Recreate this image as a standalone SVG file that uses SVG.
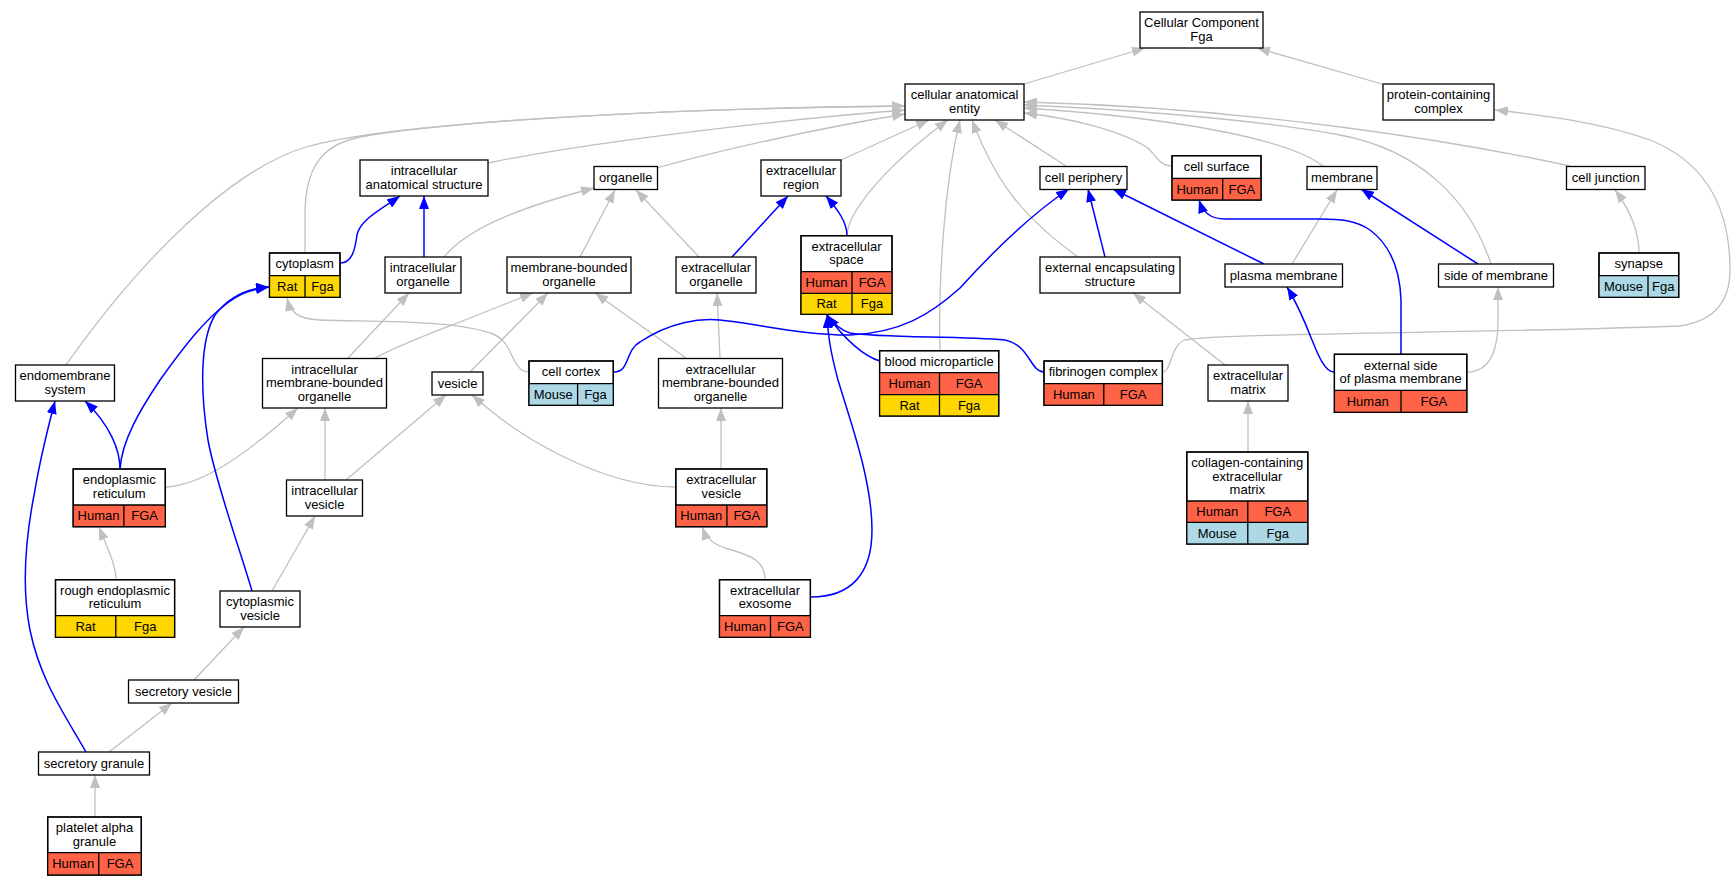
<svg xmlns="http://www.w3.org/2000/svg" width="1735" height="885" viewBox="0 0 1735 885">
<style>
text{font-family:"Liberation Sans",Arial,Helvetica,sans-serif;font-size:13px;text-anchor:middle;fill:#000}
.bx{fill:#fff;stroke:#000;stroke-width:1.3}
.ln{stroke:#000;stroke-width:1.3;fill:none}
.hu{fill:#ff6347}
.ra{fill:#ffd700}
.mo{fill:#add8e6}
.g{fill:none;stroke:#c0c0c0;stroke-width:1.3;marker-end:url(#ag)}
.b{fill:none;stroke:#0000ff;stroke-width:1.5;marker-end:url(#ab)}
</style>
<defs>
<marker id="ag" markerUnits="userSpaceOnUse" markerWidth="14" markerHeight="10" refX="13" refY="5" orient="auto"><path d="M0,0 L13,5 L0,10 z" fill="#c0c0c0"/></marker>
<marker id="ab" markerUnits="userSpaceOnUse" markerWidth="14" markerHeight="10" refX="13" refY="5" orient="auto"><path d="M0,0 L13,5 L0,10 z" fill="#0000ff"/></marker>
</defs>
<rect width="1735" height="885" fill="#fff"/>
<g id="connectors">
<path class="g" d="M1024,84 L1145,48"/>
<path class="g" d="M1382,84 L1257,48"/>
<path class="g" d="M66,365 C140,260 230,170 306,147 C400,120 700,108 905,106"/>
<path class="g" d="M305,253 L305,215 C305,170 320,145 360,137 C450,120 700,108 905,106"/>
<path class="g" d="M488,163 C600,140 800,118 905,110"/>
<path class="g" d="M657,168 C720,150 820,128 905,114"/>
<path class="g" d="M841,160 L929,120"/>
<path class="g" d="M847,236 C847,215 880,170 948,120"/>
<path class="g" d="M940,351 C938,280 945,180 960,120"/>
<path class="g" d="M1078,257 C1020,215 995,180 972,120"/>
<path class="g" d="M1066,166 L995,120"/>
<path class="g" d="M1172,166 C1160,166 1155,155 1148,148 C1120,130 1070,118 1024,113"/>
<path class="g" d="M1323,166 C1290,140 1180,118 1024,108"/>
<path class="g" d="M1491,264 C1470,200 1420,150 1340,135 C1250,118 1100,108 1024,105"/>
<path class="g" d="M1570,166 C1450,140 1250,108 1024,102"/>
<path class="g" d="M444,257 C470,225 530,205 594,188"/>
<path class="g" d="M580,257 L615,190"/>
<path class="g" d="M699,257 L636,190"/>
<path class="g" d="M1292,264 L1337,190"/>
<path class="g" d="M1639,253 C1639,230 1630,210 1615,190"/>
<path class="g" d="M348,358 L409,293"/>
<path class="g" d="M375,358 C405,342 440,330 470,318 L533,293"/>
<path class="g" d="M470,372 L548,293"/>
<path class="g" d="M686,358 L595,293"/>
<path class="g" d="M720,358 L717,293"/>
<path class="g" d="M529,372 C510,372 515,340 490,333 C450,320 380,322 320,320 C295,319 290,310 287,298"/>
<path class="g" d="M1162,372 C1172,372 1170,345 1185,340 C1220,333 1500,333 1680,326 C1720,320 1730,295 1730,270 C1730,200 1700,160 1650,140 C1600,122 1540,115 1495,110"/>
<path class="g" d="M1225,365 L1133,293"/>
<path class="g" d="M1467,372 C1490,372 1498,350 1498,320 L1498,287"/>
<path class="g" d="M166,487 C200,485 240,460 298,408"/>
<path class="g" d="M325,480 L325,408"/>
<path class="g" d="M346,480 L446,395"/>
<path class="g" d="M676,487 C640,487 600,475 560,455 C520,435 495,415 472,395"/>
<path class="g" d="M721,469 L721,408"/>
<path class="g" d="M1248,452 L1248,401"/>
<path class="g" d="M116,580 C116,565 108,550 99,527"/>
<path class="g" d="M272,591 L315,516"/>
<path class="g" d="M765,580 C765,560 750,555 725,548 C710,543 705,535 702,527"/>
<path class="g" d="M194,680 L244,627"/>
<path class="g" d="M109,752 L172,703"/>
<path class="g" d="M95,817 L95,775"/>
<path class="b" d="M340,263 C352,263 355,250 357,235 C360,220 380,210 400,196"/>
<path class="b" d="M424,257 L424,196"/>
<path class="b" d="M732,257 L788,196"/>
<path class="b" d="M847,236 C847,222 838,210 826,196"/>
<path class="b" d="M614,372 C630,372 625,350 640,342 C670,322 700,318 720,320 C760,324 800,335 850,335 C900,333 930,315 960,288 C990,255 1030,215 1069,189"/>
<path class="b" d="M1105,257 L1088,189"/>
<path class="b" d="M1264,264 L1113,189"/>
<path class="b" d="M1401,354 L1401,300 C1400,270 1390,245 1370,230 C1355,220 1340,219 1320,219 L1225,219 C1210,219 1203,212 1199,200"/>
<path class="b" d="M1478,264 L1361,189"/>
<path class="b" d="M1334,372 C1325,372 1318,355 1312,340 C1305,322 1295,300 1287,287"/>
<path class="b" d="M120,469 C120,450 110,425 85,401"/>
<path class="b" d="M120,469 C122,440 140,410 160,380 C185,345 205,320 225,305 C240,293 250,290 269,287"/>
<path class="b" d="M252,591 C240,550 215,480 208,440 C200,390 200,340 215,315 C230,295 250,288 269,287"/>
<path class="b" d="M86,752 C65,715 40,680 30,630 C22,590 25,540 35,490 C40,460 50,420 55,401"/>
<path class="b" d="M880,361 C865,357 845,340 827,315"/>
<path class="b" d="M811,597 C850,597 872,575 872,530 C872,480 850,420 838,380 C830,350 828,335 827,315"/>
<path class="b" d="M1044,372 C1030,372 1030,345 1005,340 C960,336 880,338 850,333 C840,330 833,323 827,315"/>
</g>
<g id="n-cellular-component"><rect class="bx" x="1140" y="12" width="123" height="36"/><text x="1201.5" y="27.4">Cellular Component</text><text x="1201.5" y="40.7">Fga</text></g>
<g id="n-cellular-anatomical-entity"><rect class="bx" x="905" y="84" width="119" height="36"/><text x="964.5" y="99.4">cellular anatomical</text><text x="964.5" y="112.7">entity</text></g>
<g id="n-protein-containing-complex"><rect class="bx" x="1383" y="84" width="111" height="36"/><text x="1438.5" y="99.4">protein-containing</text><text x="1438.5" y="112.7">complex</text></g>
<g id="n-intracellular-anatomical-structure"><rect class="bx" x="360" y="160" width="128" height="36"/><text x="424" y="175.4">intracellular</text><text x="424" y="188.7">anatomical structure</text></g>
<g id="n-organelle"><rect class="bx" x="594" y="166.5" width="63.5" height="23"/><text x="625.7" y="182">organelle</text></g>
<g id="n-extracellular-region"><rect class="bx" x="761" y="160" width="80" height="36"/><text x="801" y="175.4">extracellular</text><text x="801" y="188.7">region</text></g>
<g id="n-cell-periphery"><rect class="bx" x="1040" y="166.5" width="87" height="23"/><text x="1083.5" y="182">cell periphery</text></g>
<g id="n-cell-surface"><rect class="bx" x="1172" y="155.7" width="89" height="44.3"/><rect class="hu" x="1172" y="178.3" width="89" height="21.7"/><path class="ln" d="M1172,178.3 H1261 M1222.7,178.3 V200"/><rect class="bx" x="1172" y="155.7" width="89" height="44.3" fill="none" style="fill:none"/><text x="1216.5" y="171">cell surface</text><text x="1197.4" y="193.7">Human</text><text x="1241.9" y="193.7">FGA</text></g>
<g id="n-membrane"><rect class="bx" x="1307" y="166.5" width="70" height="23"/><text x="1342" y="182">membrane</text></g>
<g id="n-cell-junction"><rect class="bx" x="1566.5" y="166.5" width="78.5" height="23"/><text x="1605.7" y="182">cell junction</text></g>
<g id="n-cytoplasm"><rect class="bx" x="269.5" y="253" width="70.5" height="44.3"/><rect class="ra" x="269.5" y="275.7" width="70.5" height="21.6"/><path class="ln" d="M269.5,275.7 H340 M305,275.7 V297.3"/><rect class="bx" x="269.5" y="253" width="70.5" height="44.3" style="fill:none"/><text x="304.7" y="268.4">cytoplasm</text><text x="287.2" y="291">Rat</text><text x="322.5" y="291">Fga</text></g>
<g id="n-intracellular-organelle"><rect class="bx" x="385" y="257" width="76" height="36"/><text x="423" y="272.4">intracellular</text><text x="423" y="285.7">organelle</text></g>
<g id="n-membrane-bounded-organelle"><rect class="bx" x="507" y="257" width="124" height="36"/><text x="569" y="272.4">membrane-bounded</text><text x="569" y="285.7">organelle</text></g>
<g id="n-extracellular-organelle"><rect class="bx" x="676" y="257" width="80" height="36"/><text x="716" y="272.4">extracellular</text><text x="716" y="285.7">organelle</text></g>
<g id="n-extracellular-space"><rect class="bx" x="801" y="235.7" width="91" height="78.6"/><rect class="hu" x="801" y="271.7" width="91" height="21.6"/><rect class="ra" x="801" y="293.3" width="91" height="21"/><path class="ln" d="M801,271.7 H892 M801,293.3 H892 M852,271.7 V314.3"/><rect class="bx" x="801" y="235.7" width="91" height="78.6" style="fill:none"/><text x="846.5" y="251">extracellular</text><text x="846.5" y="264.3">space</text><text x="826.5" y="287">Human</text><text x="872" y="287">FGA</text><text x="826.5" y="308.3">Rat</text><text x="872" y="308.3">Fga</text></g>
<g id="n-external-encapsulating-structure"><rect class="bx" x="1040" y="257" width="140" height="36"/><text x="1110" y="272.4">external encapsulating</text><text x="1110" y="285.7">structure</text></g>
<g id="n-plasma-membrane"><rect class="bx" x="1225" y="264" width="117.5" height="23"/><text x="1283.7" y="279.5">plasma membrane</text></g>
<g id="n-side-of-membrane"><rect class="bx" x="1438.5" y="264" width="115" height="23"/><text x="1496" y="279.5">side of membrane</text></g>
<g id="n-synapse"><rect class="bx" x="1599" y="253" width="79.7" height="44.3"/><rect class="mo" x="1599" y="275.7" width="79.7" height="21.6"/><path class="ln" d="M1599,275.7 H1678.7 M1648,275.7 V297.3"/><rect class="bx" x="1599" y="253" width="79.7" height="44.3" style="fill:none"/><text x="1638.8" y="268.4">synapse</text><text x="1623.5" y="291">Mouse</text><text x="1663.3" y="291">Fga</text></g>
<g id="n-endomembrane-system"><rect class="bx" x="15.5" y="365" width="99" height="36"/><text x="65" y="380.4">endomembrane</text><text x="65" y="393.7">system</text></g>
<g id="n-intracellular-membrane-bounded-organelle"><rect class="bx" x="262.5" y="358.5" width="124" height="49.5"/><text x="324.5" y="374">intracellular</text><text x="324.5" y="387.3">membrane-bounded</text><text x="324.5" y="400.6">organelle</text></g>
<g id="n-vesicle"><rect class="bx" x="432" y="372" width="51" height="23"/><text x="457.5" y="387.5">vesicle</text></g>
<g id="n-cell-cortex"><rect class="bx" x="529" y="361" width="84.3" height="44.3"/><rect class="mo" x="529" y="383.7" width="84.3" height="21.6"/><path class="ln" d="M529,383.7 H613.3 M577.6,383.7 V405.3"/><rect class="bx" x="529" y="361" width="84.3" height="44.3" style="fill:none"/><text x="571.1" y="376.4">cell cortex</text><text x="553.3" y="399">Mouse</text><text x="595.5" y="399">Fga</text></g>
<g id="n-extracellular-membrane-bounded-organelle"><rect class="bx" x="658.5" y="358.5" width="124" height="49.5"/><text x="720.5" y="374">extracellular</text><text x="720.5" y="387.3">membrane-bounded</text><text x="720.5" y="400.6">organelle</text></g>
<g id="n-blood-microparticle"><rect class="bx" x="879.6" y="350.7" width="119.1" height="65.3"/><rect class="hu" x="879.6" y="372.7" width="119.1" height="22"/><rect class="ra" x="879.6" y="394.7" width="119.1" height="21.3"/><path class="ln" d="M879.6,372.7 H998.7 M879.6,394.7 H998.7 M939.5,372.7 V416"/><rect class="bx" x="879.6" y="350.7" width="119.1" height="65.3" style="fill:none"/><text x="939.1" y="365.7">blood microparticle</text><text x="909.5" y="388.2">Human</text><text x="969.1" y="388.2">FGA</text><text x="909.5" y="409.9">Rat</text><text x="969.1" y="409.9">Fga</text></g>
<g id="n-fibrinogen-complex"><rect class="bx" x="1044" y="361" width="118.4" height="44.3"/><rect class="hu" x="1044" y="383.7" width="118.4" height="21.6"/><path class="ln" d="M1044,383.7 H1162.4 M1103.8,383.7 V405.3"/><rect class="bx" x="1044" y="361" width="118.4" height="44.3" style="fill:none"/><text x="1103.2" y="376.4">fibrinogen complex</text><text x="1073.9" y="399">Human</text><text x="1133.1" y="399">FGA</text></g>
<g id="n-extracellular-matrix"><rect class="bx" x="1208" y="365" width="80" height="36"/><text x="1248" y="380.4">extracellular</text><text x="1248" y="393.7">matrix</text></g>
<g id="n-external-side-of-plasma-membrane"><rect class="bx" x="1334.4" y="354.3" width="132.4" height="58"/><rect class="hu" x="1334.4" y="390.3" width="132.4" height="22"/><path class="ln" d="M1334.4,390.3 H1466.8 M1401,390.3 V412.3"/><rect class="bx" x="1334.4" y="354.3" width="132.4" height="58" style="fill:none"/><text x="1400.6" y="369.7">external side</text><text x="1400.6" y="383">of plasma membrane</text><text x="1367.7" y="405.8">Human</text><text x="1433.9" y="405.8">FGA</text></g>
<g id="n-endoplasmic-reticulum"><rect class="bx" x="73.2" y="469" width="92.1" height="57.7"/><rect class="hu" x="73.2" y="505" width="92.1" height="21.7"/><path class="ln" d="M73.2,505 H165.3 M123.9,505 V526.7"/><rect class="bx" x="73.2" y="469" width="92.1" height="57.7" style="fill:none"/><text x="119.2" y="484.4">endoplasmic</text><text x="119.2" y="497.7">reticulum</text><text x="98.5" y="520.4">Human</text><text x="144.6" y="520.4">FGA</text></g>
<g id="n-intracellular-vesicle"><rect class="bx" x="286.5" y="480" width="76" height="36"/><text x="324.5" y="495.4">intracellular</text><text x="324.5" y="508.7">vesicle</text></g>
<g id="n-extracellular-vesicle"><rect class="bx" x="675.8" y="469" width="91" height="57.7"/><rect class="hu" x="675.8" y="505" width="91" height="21.7"/><path class="ln" d="M675.8,505 H766.8 M726.9,505 V526.7"/><rect class="bx" x="675.8" y="469" width="91" height="57.7" style="fill:none"/><text x="721.3" y="484.4">extracellular</text><text x="721.3" y="497.7">vesicle</text><text x="701.3" y="520.4">Human</text><text x="746.8" y="520.4">FGA</text></g>
<g id="n-collagen-containing-extracellular-matrix"><rect class="bx" x="1186.8" y="452" width="121" height="92"/><rect class="hu" x="1186.8" y="501" width="121" height="21.3"/><rect class="mo" x="1186.8" y="522.3" width="121" height="21.7"/><path class="ln" d="M1186.8,501 H1307.8 M1186.8,522.3 H1307.8 M1247.8,501 V544"/><rect class="bx" x="1186.8" y="452" width="121" height="92" style="fill:none"/><text x="1247.3" y="467.2">collagen-containing</text><text x="1247.3" y="480.5">extracellular</text><text x="1247.3" y="493.8">matrix</text><text x="1217.3" y="516.2">Human</text><text x="1277.8" y="516.2">FGA</text><text x="1217.3" y="537.7">Mouse</text><text x="1277.8" y="537.7">Fga</text></g>
<g id="n-rough-endoplasmic-reticulum"><rect class="bx" x="55.5" y="579.7" width="119.1" height="57.6"/><rect class="ra" x="55.5" y="615.7" width="119.1" height="21.6"/><path class="ln" d="M55.5,615.7 H174.6 M115.8,615.7 V637.3"/><rect class="bx" x="55.5" y="579.7" width="119.1" height="57.6" style="fill:none"/><text x="115" y="595.1">rough endoplasmic</text><text x="115" y="608.4">reticulum</text><text x="85.6" y="631">Rat</text><text x="145.2" y="631">Fga</text></g>
<g id="n-cytoplasmic-vesicle"><rect class="bx" x="220" y="591" width="80" height="36"/><text x="260" y="606.4">cytoplasmic</text><text x="260" y="619.7">vesicle</text></g>
<g id="n-extracellular-exosome"><rect class="bx" x="719.5" y="579.7" width="90.9" height="57.6"/><rect class="hu" x="719.5" y="615.7" width="90.9" height="21.6"/><path class="ln" d="M719.5,615.7 H810.4 M770.5,615.7 V637.3"/><rect class="bx" x="719.5" y="579.7" width="90.9" height="57.6" style="fill:none"/><text x="765" y="595.1">extracellular</text><text x="765" y="608.4">exosome</text><text x="745" y="631">Human</text><text x="790.4" y="631">FGA</text></g>
<g id="n-secretory-vesicle"><rect class="bx" x="128.5" y="680" width="110" height="23"/><text x="183.5" y="695.5">secretory vesicle</text></g>
<g id="n-secretory-granule"><rect class="bx" x="38.5" y="752" width="111" height="23"/><text x="94" y="767.5">secretory granule</text></g>
<g id="n-platelet-alpha-granule"><rect class="bx" x="47.7" y="817" width="93.6" height="58"/><rect class="hu" x="47.7" y="852.7" width="93.6" height="22.3"/><path class="ln" d="M47.7,852.7 H141.3 M98.8,852.7 V875"/><rect class="bx" x="47.7" y="817" width="93.6" height="58" style="fill:none"/><text x="94.5" y="832.2">platelet alpha</text><text x="94.5" y="845.5">granule</text><text x="73.2" y="868.4">Human</text><text x="120" y="868.4">FGA</text></g>
</svg>
